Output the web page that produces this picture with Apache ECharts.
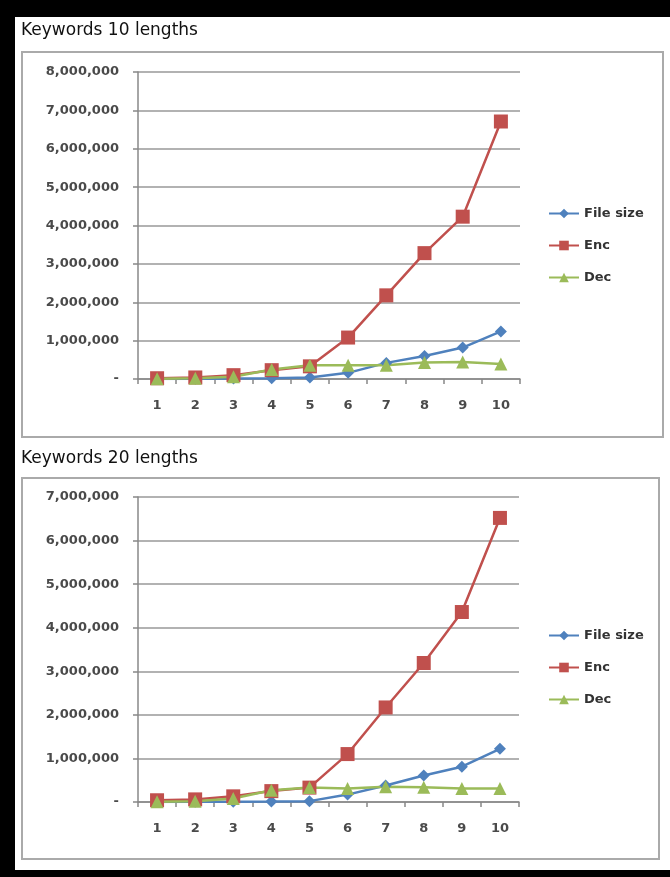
<!DOCTYPE html>
<html>
<head>
<meta charset="utf-8">
<style>
  html, body { margin: 0; padding: 0; background: #000; }
  #chart { width: 670px; height: 877px; }
</style>
<script src="https://cdn.jsdelivr.net/npm/echarts@6/dist/echarts.min.js"></script>
</head>
<body>
<div id="chart"></div>
<script>
// Keyword lengths 1..10 on the x axis
const categories = ['1', '2', '3', '4', '5', '6', '7', '8', '9', '10'];

// Keywords 10 lengths
const fileSize10 = [2000, 5000, 10000, 20000, 40000, 160000, 420000, 600000, 820000, 1240000];
const enc10 = [20000, 40000, 100000, 230000, 330000, 1080000, 2180000, 3280000, 4230000, 6710000];
const dec10 = [5000, 20000, 60000, 250000, 360000, 360000, 360000, 430000, 440000, 390000];

// Keywords 20 lengths
const fileSize20 = [2000, 5000, 5000, 10000, 20000, 170000, 380000, 610000, 810000, 1220000];
const enc20 = [40000, 60000, 130000, 250000, 330000, 1100000, 2170000, 3190000, 4360000, 6520000];
const dec20 = [5000, 20000, 80000, 270000, 330000, 310000, 350000, 340000, 310000, 310000];

const seriesNames = ['File size', 'Enc', 'Dec'];
const yMax10 = 8000000;
const yMax20 = 7000000;
const yStep = 1000000;

const FONT = 'DejaVu Sans';
const colors = { 'File size': '#4F81BD', 'Enc': '#C0504D', 'Dec': '#9BBB59' };
const symbols = { 'File size': 'diamond', 'Enc': 'rect', 'Dec': 'triangle' };
const symbolSizes = { 'File size': 12, 'Enc': 14, 'Dec': 13 };

function fmt(v) {
  return v === 0 ? '-' : v.toLocaleString('en-US');
}

function xAxis(gridIndex) {
  return {
    type: 'category', gridIndex, data: categories, boundaryGap: true,
    axisLine: { lineStyle: { color: '#888', width: 1.5 } },
    axisTick: { show: true, length: 5, lineStyle: { color: '#888', width: 1.5 } },
    axisLabel: { margin: 20, fontFamily: FONT, fontSize: 13, fontWeight: 'bold', color: '#4a4a4a' }
  };
}

function yAxis(gridIndex, max) {
  return {
    type: 'value', gridIndex, min: 0, max, interval: yStep,
    axisLine: { show: true, lineStyle: { color: '#888', width: 1.5 } },
    axisTick: { show: true, length: 5, lineStyle: { color: '#888', width: 1.5 } },
    splitLine: { lineStyle: { color: '#999', width: 1.5 } },
    axisLabel: { margin: 19, fontFamily: FONT, fontSize: 13, fontWeight: 'bold', color: '#4a4a4a', formatter: fmt }
  };
}

function line(name, data, idx) {
  return {
    name, type: 'line', data, xAxisIndex: idx, yAxisIndex: idx,
    symbol: symbols[name], symbolSize: symbolSizes[name],
    lineStyle: { color: colors[name], width: 2.5 },
    itemStyle: { color: colors[name] },
    animation: false
  };
}

function legend(top) {
  return {
    data: seriesNames, orient: 'vertical', left: 548, top, padding: 0,
    itemWidth: 30, itemHeight: 12, itemGap: 19,
    textStyle: { fontFamily: FONT, fontSize: 13, fontWeight: 'bold', color: '#333' },
    selectedMode: false
  };
}

const chart = echarts.init(document.getElementById('chart'), null, { renderer: 'canvas' });
chart.setOption({
  backgroundColor: '#000',
  animation: false,
  graphic: [
    { type: 'rect', shape: { x: 15, y: 17, width: 655, height: 853 }, style: { fill: '#fff' }, z: -10 },
    { type: 'rect', shape: { x: 22, y: 52, width: 641, height: 385 }, style: { fill: '#fff', stroke: '#aaa', lineWidth: 2 }, z: -5 },
    { type: 'rect', shape: { x: 22, y: 478, width: 637, height: 381 }, style: { fill: '#fff', stroke: '#aaa', lineWidth: 2 }, z: -5 }
  ],
  title: [
    { text: 'Keywords 10 lengths', left: 21, top: 22, padding: 0,
      textStyle: { fontFamily: FONT, fontSize: 17, fontWeight: 'normal', color: '#111' } },
    { text: 'Keywords 20 lengths', left: 21, top: 450, padding: 0,
      textStyle: { fontFamily: FONT, fontSize: 17, fontWeight: 'normal', color: '#111' } }
  ],
  legend: [legend(207), legend(629)],
  grid: [
    { left: 138, top: 72, width: 382, height: 307 },
    { left: 138, top: 497, width: 381, height: 305 }
  ],
  xAxis: [xAxis(0), xAxis(1)],
  yAxis: [yAxis(0, yMax10), yAxis(1, yMax20)],
  series: [
    line('File size', fileSize10, 0),
    line('Enc', enc10, 0),
    line('Dec', dec10, 0),
    line('File size', fileSize20, 1),
    line('Enc', enc20, 1),
    line('Dec', dec20, 1)
  ]
});
</script>
</body>
</html>
